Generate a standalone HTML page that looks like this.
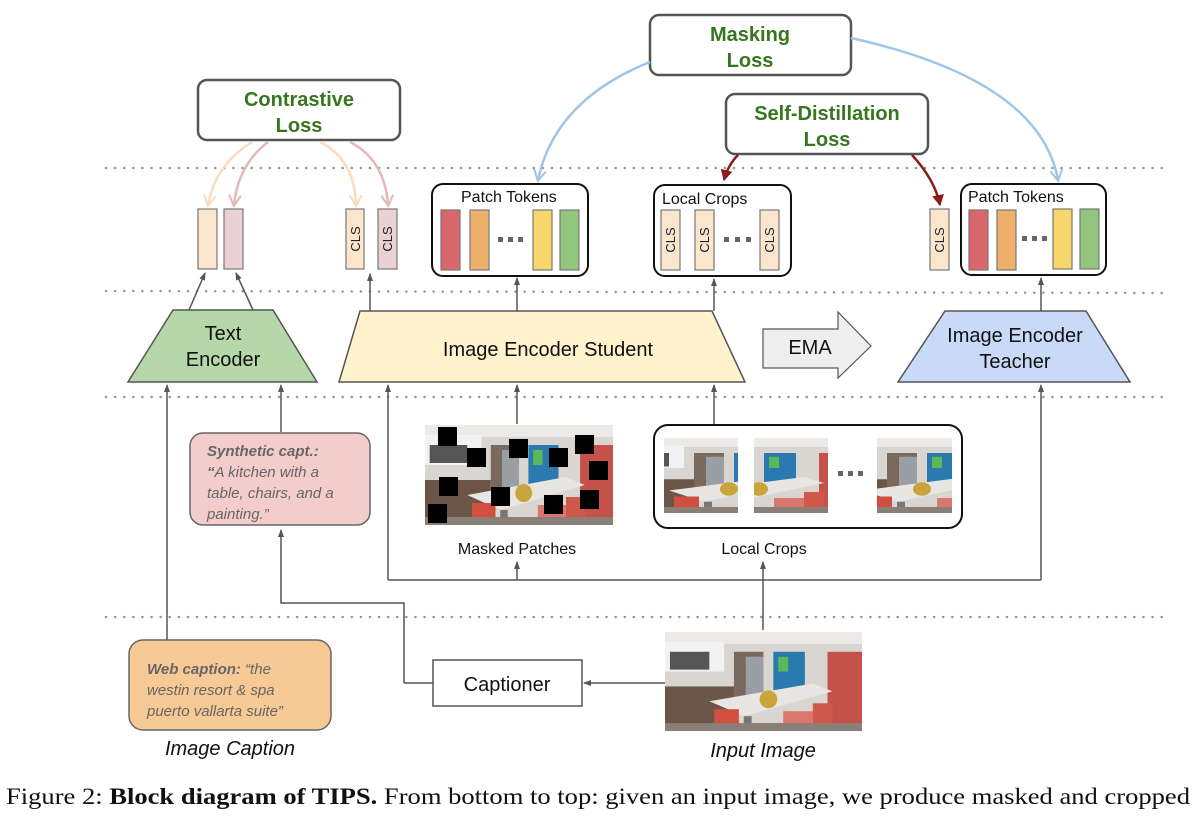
<!DOCTYPE html>
<html><head><meta charset="utf-8"><style>
body{margin:0;background:#fff;width:1200px;height:816px;overflow:hidden}
svg{display:block}
.g{font-family:"Liberation Sans",sans-serif;font-weight:bold;fill:#38761d;font-size:20px;text-anchor:middle}
.t{font-family:"Liberation Sans",sans-serif;fill:#111;text-anchor:middle}
.cls{font-family:"Liberation Sans",sans-serif;font-size:13px;fill:#222;text-anchor:middle}
.it{font-family:"Liberation Sans",sans-serif;font-style:italic;fill:#666;font-size:15px}
</style></head><body>
<svg width="1200" height="816" viewBox="0 0 1200 816" xmlns="http://www.w3.org/2000/svg">
<defs>
<marker id="ah" markerWidth="8" markerHeight="8" refX="7" refY="4" orient="auto" markerUnits="userSpaceOnUse"><path d="M0,1 L8,4 L0,7 z" fill="#555"/></marker>
<marker id="ab" markerWidth="14" markerHeight="14" refX="10" refY="7" orient="auto" markerUnits="userSpaceOnUse"><path d="M0,1 L11,7 L0,13" fill="none" stroke="#9fc5e8" stroke-width="2"/></marker>
<marker id="ao" markerWidth="14" markerHeight="14" refX="10" refY="7" orient="auto" markerUnits="userSpaceOnUse"><path d="M0,1 L11,7 L0,13" fill="none" stroke="#f9dcc0" stroke-width="2"/></marker>
<marker id="ap" markerWidth="14" markerHeight="14" refX="10" refY="7" orient="auto" markerUnits="userSpaceOnUse"><path d="M0,1 L11,7 L0,13" fill="none" stroke="#e6b8b8" stroke-width="2"/></marker>
<marker id="ar" markerWidth="14" markerHeight="14" refX="10" refY="7" orient="auto" markerUnits="userSpaceOnUse"><path d="M0,1 L11,7 L0,13 z" fill="#8b1a1a"/></marker>
<symbol id="k" viewBox="0 0 200 100" preserveAspectRatio="none">
<rect width="200" height="100" fill="#d9d6d2"/>
<rect x="0" y="0" width="200" height="12" fill="#eceae7"/>
<rect x="0" y="10" width="60" height="30" fill="#f2f2f2"/>
<rect x="5" y="20" width="40" height="18" fill="#555"/>
<rect x="0" y="55" width="70" height="45" fill="#6b5546"/>
<rect x="70" y="20" width="30" height="50" fill="#7a6a5e"/>
<rect x="82" y="25" width="18" height="40" fill="#9a9fa5"/>
<rect x="110" y="20" width="32" height="40" fill="#2a7ab0"/>
<rect x="115" y="25" width="10" height="15" fill="#5ab85a"/>
<rect x="165" y="20" width="35" height="80" fill="#c4524b"/>
<polygon points="45,70 150,52 170,60 80,85" fill="#e8e6e3"/>
<rect x="80" y="85" width="8" height="15" fill="#777"/>
<circle cx="105" cy="68" r="9" fill="#c9a43a"/>
<rect x="50" y="78" width="25" height="22" fill="#d04f3e"/>
<rect x="120" y="80" width="30" height="20" fill="#d9776c"/>
<rect x="150" y="72" width="20" height="28" fill="#d0584a"/>
<rect x="0" y="92" width="200" height="8" fill="#8a7f77"/>
</symbol>
</defs>

<g stroke="#8a9aa5" stroke-width="2.5" stroke-dasharray="0.1 9" stroke-linecap="round">
<line x1="106" y1="168" x2="1166" y2="168"/>
<line x1="106" y1="291" x2="1166" y2="293"/>
<line x1="106" y1="397" x2="1166" y2="397"/>
<line x1="106" y1="617" x2="1166" y2="617"/>
</g>

<rect x="198" y="80" width="202" height="60" rx="9" fill="#fff" stroke="#555" stroke-width="2.5"/>
<text class="g" x="299" y="106">Contrastive</text><text class="g" x="299" y="132">Loss</text>
<rect x="650" y="15" width="201" height="60" rx="9" fill="#fff" stroke="#555" stroke-width="2.5"/>
<text class="g" x="750" y="41">Masking</text><text class="g" x="750" y="67">Loss</text>
<rect x="726" y="94" width="202" height="60" rx="9" fill="#fff" stroke="#555" stroke-width="2.5"/>
<text class="g" x="827" y="120">Self-Distillation</text><text class="g" x="827" y="146">Loss</text>

<g fill="none" stroke-width="2.5">
<path d="M252,142 Q215,165 208,205" stroke="#f9dcc0" marker-end="url(#ao)"/>
<path d="M268,142 Q238,165 234,205" stroke="#e6b8b8" marker-end="url(#ap)"/>
<path d="M320,142 Q355,160 356,205" stroke="#f9dcc0" marker-end="url(#ao)"/>
<path d="M350,142 Q385,160 388,205" stroke="#e6b8b8" marker-end="url(#ap)"/>
<path d="M650,62 Q555,100 538,180" stroke="#9fc5e8" marker-end="url(#ab)"/>
<path d="M851,38 Q1040,80 1058,180" stroke="#9fc5e8" marker-end="url(#ab)"/>
<path d="M738,155 Q728,165 724,180" stroke="#8b1a1a" marker-end="url(#ar)"/>
<path d="M912,155 Q935,180 940,205" stroke="#8b1a1a" marker-end="url(#ar)"/>
</g>

<g stroke="#777" stroke-width="1.2">
<rect x="198" y="209" width="19" height="60" fill="#fce5cd"/>
<rect x="224" y="209" width="19" height="60" fill="#ead1d3"/>
<rect x="346" y="209" width="18" height="60" fill="#fce5cd"/>
<rect x="378" y="209" width="19" height="60" fill="#ead1d3"/>
<rect x="930" y="209" width="19" height="61" fill="#fce5cd"/>
</g>
<rect x="432" y="184" width="156" height="92" rx="11" fill="none" stroke="#111" stroke-width="2"/>
<text class="t" x="461" y="202" style="font-size:16px;text-anchor:start">Patch Tokens</text>
<g stroke="#777" stroke-width="1.2">
<rect x="441" y="210" width="19" height="60" fill="#d9666a"/>
<rect x="470" y="210" width="19" height="60" fill="#eeb06a"/>
<rect x="533" y="210" width="19" height="60" fill="#f7d66c"/>
<rect x="560" y="210" width="19" height="60" fill="#93c47d"/>
</g>
<g fill="#666"><rect x="498" y="237" width="5" height="5"/><rect x="508" y="237" width="5" height="5"/><rect x="518" y="237" width="5" height="5"/></g>

<rect x="654" y="185" width="137" height="91" rx="11" fill="none" stroke="#111" stroke-width="2"/>
<text class="t" x="662" y="204" style="font-size:16px;text-anchor:start">Local Crops</text>
<g stroke="#777" stroke-width="1.2" fill="#fce5cd">
<rect x="661" y="210" width="19" height="60"/>
<rect x="695" y="210" width="19" height="60"/>
<rect x="760" y="210" width="19" height="60"/>
</g>
<g fill="#666"><rect x="724" y="237" width="5" height="5"/><rect x="735" y="237" width="5" height="5"/><rect x="746" y="237" width="5" height="5"/></g>

<rect x="961" y="184" width="145" height="91" rx="11" fill="none" stroke="#111" stroke-width="2"/>
<text class="t" x="968" y="202" style="font-size:16px;text-anchor:start">Patch Tokens</text>
<g stroke="#777" stroke-width="1.2">
<rect x="969" y="210" width="19" height="60" fill="#d9666a"/>
<rect x="997" y="210" width="19" height="60" fill="#eeb06a"/>
<rect x="1053" y="209" width="19" height="60" fill="#f7d66c"/>
<rect x="1080" y="209" width="19" height="60" fill="#93c47d"/>
</g>
<g fill="#666"><rect x="1022" y="236" width="5" height="5"/><rect x="1032" y="236" width="5" height="5"/><rect x="1042" y="236" width="5" height="5"/></g>

<g>
<text class="cls" transform="translate(360,239) rotate(-90)">CLS</text>
<text class="cls" transform="translate(392,239) rotate(-90)">CLS</text>
<text class="cls" transform="translate(675,240) rotate(-90)">CLS</text>
<text class="cls" transform="translate(709,240) rotate(-90)">CLS</text>
<text class="cls" transform="translate(774,240) rotate(-90)">CLS</text>
<text class="cls" transform="translate(944,240) rotate(-90)">CLS</text>
</g>

<polygon points="173,310 273,310 317,382 128,382" fill="#b6d7a8" stroke="#555" stroke-width="1.5"/>
<text class="t" x="223" y="340" style="font-size:20px">Text</text>
<text class="t" x="223" y="366" style="font-size:20px">Encoder</text>
<polygon points="360,311 712,311 745,382 339,382" fill="#fff2cc" stroke="#555" stroke-width="1.5"/>
<text class="t" x="548" y="356" style="font-size:20px">Image Encoder Student</text>
<polygon points="763,329 838,329 838,312 871,346 838,378 838,368 763,368" fill="#eee" stroke="#555" stroke-width="1.2"/>
<text class="t" x="810" y="354" style="font-size:20px">EMA</text>
<polygon points="945,311 1086,311 1130,382 898,382" fill="#c9daf8" stroke="#555" stroke-width="1.5"/>
<text class="t" x="1015" y="342" style="font-size:20px">Image Encoder</text>
<text class="t" x="1015" y="368" style="font-size:20px">Teacher</text>

<g stroke="#555" stroke-width="1.5" fill="none" marker-end="url(#ah)">
<line x1="189" y1="310" x2="205" y2="273"/>
<line x1="253" y1="310" x2="236" y2="273"/>
<line x1="370" y1="311" x2="370" y2="274"/>
<line x1="517" y1="311" x2="517" y2="278"/>
<line x1="714" y1="311" x2="714" y2="279"/>
<line x1="1041" y1="311" x2="1041" y2="278"/>
<line x1="167" y1="640" x2="167" y2="385"/>
<line x1="281" y1="432" x2="281" y2="385"/>
<line x1="388" y1="580" x2="388" y2="385"/>
<line x1="517" y1="424" x2="517" y2="385"/>
<line x1="714" y1="424" x2="714" y2="385"/>
<line x1="1041" y1="580" x2="1041" y2="385"/>
<line x1="517" y1="580" x2="517" y2="562"/>
<line x1="763" y1="630" x2="763" y2="562"/>
<polyline points="404,683 404,603 281,603 281,530"/>
<line x1="665" y1="683" x2="584" y2="683"/>
</g>
<line x1="388" y1="580" x2="1041" y2="580" stroke="#555" stroke-width="1.5"/>
<line x1="404" y1="683" x2="433" y2="683" stroke="#555" stroke-width="1.5"/>

<svg x="425" y="425" width="188" height="100"><use href="#k" width="188" height="100"/></svg>
<g fill="#000">
<rect x="438" y="427" width="19" height="19"/><rect x="467" y="448" width="19" height="19"/>
<rect x="509" y="439" width="19" height="19"/><rect x="575" y="435" width="19" height="19"/>
<rect x="549" y="448" width="19" height="19"/><rect x="589" y="461" width="19" height="19"/>
<rect x="439" y="477" width="19" height="19"/><rect x="491" y="487" width="19" height="19"/>
<rect x="544" y="495" width="19" height="19"/><rect x="580" y="490" width="19" height="19"/>
<rect x="428" y="504" width="19" height="19"/>
</g>
<rect x="654" y="425" width="308" height="103" rx="14" fill="#fff" stroke="#111" stroke-width="2"/>
<svg x="664" y="438" width="74" height="75"><use href="#k" x="-40" width="200" height="75"/></svg>
<svg x="754" y="438" width="74" height="75"><use href="#k" x="-100" width="200" height="75"/></svg>
<svg x="877" y="438" width="75" height="75"><use href="#k" x="-60" width="200" height="75"/></svg>
<g fill="#666"><rect x="838" y="471" width="5" height="5"/><rect x="848" y="471" width="5" height="5"/><rect x="858" y="471" width="5" height="5"/></g>
<text class="t" x="517" y="554" style="font-size:16px">Masked Patches</text>
<text class="t" x="764" y="554" style="font-size:16px">Local Crops</text>

<svg x="665" y="632" width="197" height="99"><use href="#k" width="197" height="99"/></svg>
<text class="t" x="763" y="757" style="font-size:20px;font-style:italic">Input Image</text>

<rect x="433" y="660" width="149" height="46" fill="#fff" stroke="#555" stroke-width="1.5"/>
<text class="t" x="507" y="691" style="font-size:20px">Captioner</text>

<rect x="190" y="433" width="180" height="92" rx="13" fill="#f4cccc" stroke="#666" stroke-width="1.5"/>
<text class="it" x="207" y="456"><tspan font-weight="bold">Synthetic capt.:</tspan></text>
<text class="it" x="207" y="477"><tspan font-weight="bold">“</tspan>A kitchen with a</text>
<text class="it" x="207" y="498">table, chairs, and a</text>
<text class="it" x="207" y="519">painting.”</text>

<rect x="129" y="640" width="202" height="90" rx="14" fill="#f6c995" stroke="#666" stroke-width="1.5"/>
<text class="it" x="147" y="674"><tspan font-weight="bold">Web caption:</tspan> “the</text>
<text class="it" x="147" y="695">westin resort &amp; spa</text>
<text class="it" x="147" y="716">puerto vallarta suite”</text>
<text class="t" x="230" y="755" style="font-size:20px;font-style:italic">Image Caption</text>

<text x="6" y="804" textLength="1184" lengthAdjust="spacingAndGlyphs" style="font-family:'Liberation Serif',serif;font-size:23px;fill:#111">Figure 2: <tspan font-weight="bold">Block diagram of TIPS.</tspan> From bottom to top: given an input image, we produce masked and cropped</text>
</svg>
</body></html>
